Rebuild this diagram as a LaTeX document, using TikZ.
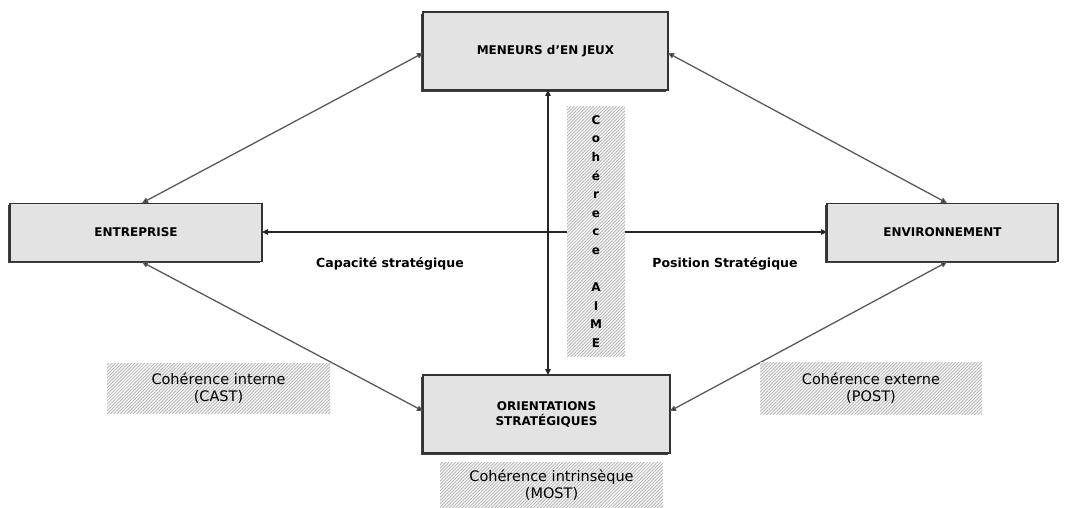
\documentclass[tikz,border=0pt]{standalone}
\usepackage{fontspec}
\setmainfont{DejaVu Sans}
\usetikzlibrary{arrows.meta,patterns.meta,shadows}
\begin{document}
\begin{tikzpicture}[x=1pt,y=-1pt,
  mainbox/.style={draw=black!80,line width=1.1pt,fill=gray!22,
    drop shadow={shadow xshift=-1.6pt,shadow yshift=-1.6pt,fill=black!75,opacity=1},
    font=\bfseries\fontsize{12}{15}\selectfont,align=center,inner sep=0pt},
  hatchbox/.style={preaction={fill=gray!8},
    pattern={Lines[angle=45,distance=2.3pt,line width=0.7pt]},
    pattern color=gray!60,font=\fontsize{14.5}{17}\selectfont,align=center,inner sep=0pt},
  link/.style={line width=1.5pt,black!85,{Triangle[length=6pt,width=5.5pt]}-{Triangle[length=6pt,width=5.5pt]}},
  diag/.style={line width=1.3pt,black!65,{Triangle[length=6pt,width=5.5pt,fill=black]}-{Triangle[length=6pt,width=5.5pt,fill=black]}},
  caption/.style={font=\bfseries\fontsize{12.5}{15}\selectfont,inner sep=0pt}]
\useasboundingbox (0,0) rectangle (1065,508);

% main boxes
\node[mainbox,minimum width=245pt,minimum height=78pt] (men) at (545.5,51) {MENEURS d'EN JEUX};
\node[mainbox,minimum width=252pt,minimum height=58pt] (ent) at (136,232.5) {ENTREPRISE};
\node[mainbox,minimum width=231pt,minimum height=58pt] (env) at (942.5,232.5) {ENVIRONNEMENT};
\node[mainbox,minimum width=247pt,minimum height=78pt] (ori) at (546.5,414) {ORIENTATIONS\\STRATÉGIQUES};

% anchor points on the box borders
\coordinate (menL) at (423,53);
\coordinate (menR) at (668,53);
\coordinate (entT) at (142,203);
\coordinate (entB) at (142,262);
\coordinate (envT) at (947,203);
\coordinate (envB) at (947,262);
\coordinate (oriL) at (423,411);
\coordinate (oriR) at (670,411);
\coordinate (menB) at (548,90);
\coordinate (oriT) at (548,375);
\coordinate (entR) at (262,232);
\coordinate (envL) at (827,232);

% connectors
\draw[diag] (entT) -- (menL);
\draw[diag] (menR) -- (envT);
\draw[diag] (entB) -- (oriL);
\draw[diag] (envB) -- (oriR);
\draw[link] (menB) -- (oriT);
\draw[link] (entR) -- (envL);

% hatched labels
\node[hatchbox,minimum width=58pt,minimum height=249pt,
  font=\bfseries\fontsize{12}{18.6}\selectfont] (aime) at (596,231.5)
  {C\\o\\h\\é\\r\\e\\c\\e\\[18.6pt]A\\I\\M\\E};
\node[hatchbox,minimum width=223pt,minimum height=50pt] (cast) at (218.5,388) {Cohérence interne\\(CAST)};
\node[hatchbox,minimum width=222pt,minimum height=52pt] (post) at (871,388) {Cohérence externe\\(POST)};
\node[hatchbox,minimum width=223pt,minimum height=46pt] (most) at (551.5,485) {Cohérence intrinsèque\\(MOST)};

% axis captions
\node[caption] (cap) at (390,264) {Capacité stratégique};
\node[caption] (pos) at (725,264) {Position Stratégique};
\end{tikzpicture}
\end{document}
